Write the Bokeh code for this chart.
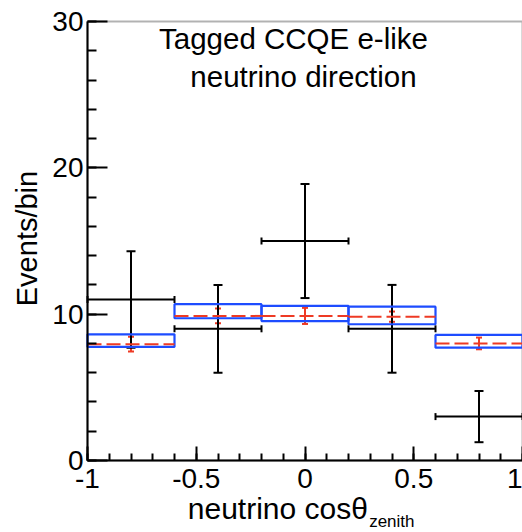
import math
from bokeh.plotting import figure
from bokeh.models import (ColumnDataSource, Whisker, TeeHead, Label, FixedTicker, Range1d,
                          BoxAnnotation)
from bokeh.embed import file_html
from bokeh.resources import INLINE

# ---- data ----
bin_edges = [-1.0, -0.6, -0.2, 0.2, 0.6, 1.0]
data_counts = [11, 9, 15, 9, 3]
data_err = [3.3, 3.0, 3.9, 3.0, 1.75]
mc_pred = [7.95, 9.88, 9.88, 9.83, 8.0]
mc_err = [0.5, 0.5, 0.55, 0.35, 0.4]
syst_low = [7.76, 9.72, 9.53, 9.31, 7.71]
syst_high = [8.62, 10.68, 10.56, 10.51, 8.58]
x_ticks = [-1, -0.5, 0, 0.5, 1]
x_tick_labels = ["-1", "-0.5", "0", "0.5", "1"]
y_ticks = [0, 10, 20, 30]
y_tick_labels = ["0", "10", "20", "30"]

FONT = "Liberation Sans"
BLUE = "#1d4cff"
RED = "#ee3a24"

X_LO, X_HI = -1.0, 1.0
Y_LO, Y_HI = 0.0, 30.0

left = bin_edges[:-1]
right = bin_edges[1:]
centers = [(a + b) / 2 for a, b in zip(left, right)]

src = ColumnDataSource(dict(
    xl=left, xr=right, xc=centers,
    y=data_counts,
    ylo=[v - e for v, e in zip(data_counts, data_err)],
    yhi=[v + e for v, e in zip(data_counts, data_err)],
    mc=mc_pred,
    mclo=[v - e for v, e in zip(mc_pred, mc_err)],
    mchi=[v + e for v, e in zip(mc_pred, mc_err)],
    slo=syst_low, shi=syst_high,
))

# The frame fills the whole canvas; the axes are pinned at x=-1 and y=0 so that the
# axis titles (drawn as labels) are not clipped.
W, H = 522, 532
PX_LEFT, PX_TOP, PX_BOTTOM = 87, 21, 460
sx = (W - PX_LEFT) / (X_HI - X_LO)
sy = (PX_BOTTOM - PX_TOP) / (Y_HI - Y_LO)
x_range = Range1d(X_LO - PX_LEFT / sx, X_HI)
y_range = Range1d(Y_LO - (H - PX_BOTTOM) / sy, Y_HI + PX_TOP / sy)

p = figure(width=W, height=H, x_range=x_range, y_range=y_range,
           output_backend="svg", toolbar_location=None,
           min_border_left=0, min_border_right=0, min_border_top=0, min_border_bottom=0)
p.background_fill_color = "white"
p.border_fill_color = "white"
p.xgrid.visible = False
p.ygrid.visible = False
p.outline_line_color = None

# axes
p.xaxis.fixed_location = Y_LO
p.yaxis.fixed_location = X_LO
p.xaxis.bounds = (X_LO, X_HI)
p.yaxis.bounds = (Y_LO, Y_HI)
p.xaxis.ticker = FixedTicker(ticks=x_ticks,
                             minor_ticks=[round(-1 + 0.1 * i, 2) for i in range(21)])
p.yaxis.ticker = FixedTicker(ticks=y_ticks, minor_ticks=list(range(0, 31, 2)))
p.xaxis.major_label_overrides = {float(t): l for t, l in zip(x_ticks, x_tick_labels)}
p.yaxis.major_label_overrides = {float(t): l for t, l in zip(y_ticks, y_tick_labels)}
for ax in (p.xaxis[0], p.yaxis[0]):
    ax.axis_line_color = "black"
    ax.axis_line_width = 2
    ax.major_tick_line_color = "black"
    ax.major_tick_line_width = 2
    ax.minor_tick_line_color = "black"
    ax.minor_tick_line_width = 2
    ax.major_tick_out = 0
    ax.minor_tick_out = 0
    ax.major_label_text_font = FONT
    ax.major_label_text_font_size = "28px"
    ax.major_label_text_color = "black"
p.xaxis.major_tick_in = 14
p.xaxis.minor_tick_in = 7
p.xaxis.major_label_standoff = 8
p.yaxis.major_tick_in = 20
p.yaxis.minor_tick_in = 9
p.yaxis.major_label_standoff = 4

# plot box
p.add_layout(BoxAnnotation(left=X_LO, right=X_HI, bottom=Y_LO, top=Y_HI,
                           fill_color=None, fill_alpha=0, line_color="black",
                           line_width=2, level="underlay"))

# blue systematic boxes
p.quad(left="xl", right="xr", bottom="slo", top="shi", source=src,
       fill_color=None, line_color=BLUE, line_width=2.2)

# red MC prediction (dashed) with stat errors
p.segment(x0="xl", x1="xr", y0="mc", y1="mc", source=src,
          line_color=RED, line_width=2, line_dash="14 5")
p.add_layout(Whisker(source=src, base="xc", lower="mclo", upper="mchi", dimension="height",
                     line_color=RED, line_width=2,
                     upper_head=TeeHead(size=6, line_color=RED, line_width=2),
                     lower_head=TeeHead(size=6, line_color=RED, line_width=2)))

# black data points
p.add_layout(Whisker(source=src, base="xc", lower="ylo", upper="yhi", dimension="height",
                     line_color="black", line_width=2,
                     upper_head=TeeHead(size=9, line_color="black", line_width=2),
                     lower_head=TeeHead(size=9, line_color="black", line_width=2)))
p.add_layout(Whisker(source=src, base="y", lower="xl", upper="xr", dimension="width",
                     line_color="black", line_width=2,
                     upper_head=TeeHead(size=7, line_color="black", line_width=2),
                     lower_head=TeeHead(size=7, line_color="black", line_width=2)))

def label(x, y, text, size, align="center", angle=0.0):
    p.add_layout(Label(x=x, y=y, text=text, text_align=align, angle=angle,
                       text_baseline="alphabetic", text_font=FONT,
                       text_font_size=size, text_color="black"))

label(-0.053, 28.86, "Tagged CCQE e-like", "29.5px")
label(-0.007, 26.25, "neutrino direction", "29.5px")
label(-1.276, 15.17, "Events/bin", "29px", angle=math.pi / 2)
label(-0.539, -3.26, "neutrino cosθ", "30px", align="left")
label(0.295, -4.15, "zenith", "17px", align="left")

open("out.html", "w").write(file_html(p, INLINE))
